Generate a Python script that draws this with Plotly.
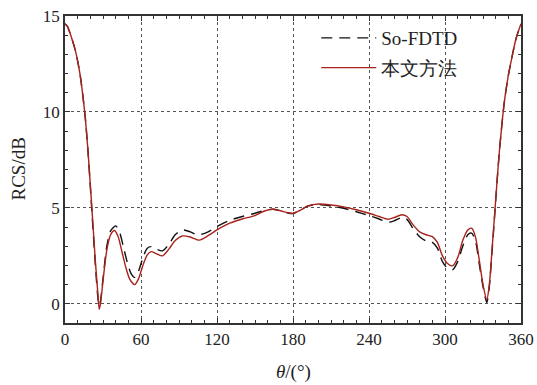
import plotly.graph_objects as go

theta_fdtd = [0, 2, 4, 6, 8, 10, 12, 14, 16, 18, 20, 22, 24, 26, 27, 28, 30, 33, 36, 40, 43, 46, 49, 52, 55, 58, 62, 65,
              68, 72, 77, 82, 87, 93, 99, 105, 113, 120, 130, 140, 150, 158, 164, 170, 176, 180, 185, 192, 200, 210,
              220, 230, 240, 248, 255, 260, 266, 270, 275, 280, 285, 290, 294, 298, 302, 306, 310, 314, 318, 321, 324,
              327, 330, 333, 335, 337, 339, 341, 343, 345, 347, 350, 353, 356, 360]
rcs_fdtd = [14.6, 14.45, 14.1, 13.7, 13.25, 12.65, 11.9, 10.9, 9.7, 8.1, 6.1, 4.0, 2.0, 0.3, -0.1, 0.15, 1.3, 3.0, 3.8,
            4.06, 3.75, 3.0, 2.2, 1.6, 1.38, 1.7, 2.5, 2.9, 2.98, 2.85, 2.76, 3.1, 3.6, 3.85, 3.75, 3.59, 3.75, 4.03,
            4.35, 4.55, 4.72, 4.88, 4.93, 4.85, 4.73, 4.7, 4.85, 5.1, 5.18, 5.1, 4.98, 4.8, 4.6, 4.42, 4.25, 4.33, 4.5,
            4.4, 3.9, 3.5, 3.28, 3.2, 2.9, 2.2, 1.85, 1.77, 2.2, 3.0, 3.6, 3.68, 3.3, 2.1, 0.9, 0.07, 0.9, 2.6, 4.4,
            6.3, 8.0, 9.4, 10.6, 11.9, 12.9, 13.8, 14.6]

theta_ours = [0, 2, 4, 6, 8, 10, 12, 14, 16, 18, 20, 22, 24, 26, 27, 28, 30, 33, 36, 39, 42, 45, 48, 51, 55, 58, 62, 65,
              68, 72, 77, 82, 87, 93, 99, 106, 113, 120, 130, 140, 150, 158, 164, 170, 176, 180, 185, 192, 200, 210,
              220, 230, 240, 248, 255, 260, 266, 270, 275, 280, 285, 290, 294, 298, 302, 306, 310, 314, 318, 321, 324,
              327, 330, 333, 335, 337, 339, 341, 343, 345, 347, 350, 353, 356, 360]
rcs_ours = [14.6, 14.45, 14.1, 13.7, 13.25, 12.65, 11.9, 10.9, 9.7, 8.1, 6.2, 4.2, 2.2, 0.5, -0.28, 0.0, 1.2, 2.8, 3.6,
            3.82, 3.5, 2.7, 1.9, 1.3, 1.0, 1.3, 2.1, 2.55, 2.72, 2.62, 2.5, 2.85, 3.3, 3.54, 3.48, 3.32, 3.55, 3.85,
            4.2, 4.42, 4.6, 4.85, 4.93, 4.85, 4.75, 4.72, 4.85, 5.1, 5.2, 5.15, 5.05, 4.9, 4.72, 4.55, 4.41, 4.5,
            4.64, 4.55, 4.1, 3.75, 3.6, 3.5, 3.2, 2.5, 2.1, 1.98, 2.4, 3.3, 3.85, 3.94, 3.5, 2.3, 1.0, 0.21, 1.0,
            2.7, 4.5, 6.3, 8.0, 9.4, 10.6, 11.9, 12.9, 13.8, 14.6]

x_ticks = [0, 60, 120, 180, 240, 300, 360]
y_ticks = [0, 5, 10, 15]

serif = "Liberation Serif"
ink = "#222222"
fig = go.Figure()
fig.add_trace(go.Scatter(x=theta_fdtd, y=rcs_fdtd, mode="lines", name="So-FDTD", legendgroup="a",
                         line=dict(color="#111111", width=1.4, dash="11px,7px", shape="spline", smoothing=0.7)))
fig.add_trace(go.Scatter(x=theta_ours, y=rcs_ours, mode="lines", name="本文方法", legendgroup="b",
                         line=dict(color="#a8221c", width=1.4, shape="spline", smoothing=0.7)))

axis_common = dict(showline=True, linecolor="#333333", linewidth=1.5, mirror="ticks",
                   ticks="inside", ticklen=5, tickcolor="#333333", automargin=False,
                   ticklabeloverflow="allow",
                   showgrid=True, gridcolor="#555555", griddash="dot", gridwidth=1,
                   zeroline=False, tickfont=dict(family=serif, size=17, color=ink))
fig.update_xaxes(range=[0, 360], tickvals=x_ticks, **axis_common,
                 minor=dict(dtick=10, ticks="inside", ticklen=3, tickcolor="#333333", showgrid=False))
fig.update_yaxes(range=[-1, 15], tickvals=y_ticks, **axis_common,
                 minor=dict(dtick=1, ticks="inside", ticklen=3, tickcolor="#333333", showgrid=False))

fig.add_annotation(text="RCS/dB", xref="paper", yref="paper", x=0, y=0.5, xanchor="center", yanchor="middle",
                   xshift=-47, textangle=-90, showarrow=False, font=dict(family=serif, size=19, color=ink))
fig.add_annotation(text="<i>θ</i>/(°)", xref="paper", yref="paper", x=0.5, y=0, xanchor="center",
                   yanchor="middle", yshift=-49, showarrow=False, font=dict(family=serif, size=19, color=ink))

fig.update_layout(width=537, height=385, margin=dict(l=65, r=16, t=16, b=62),
                  paper_bgcolor="white", plot_bgcolor="white", showlegend=True,
                  legend=dict(x=0.551, y=0.99, xanchor="left", yanchor="top", bgcolor="rgba(0,0,0,0)",
                              font=dict(family=serif, size=19, color=ink),
                              itemwidth=55, tracegroupgap=2))
fig.write_html("out.html", config={"displayModeBar": False},
               post_script="document.body.style.margin='0';document.body.style.overflow='hidden';")
